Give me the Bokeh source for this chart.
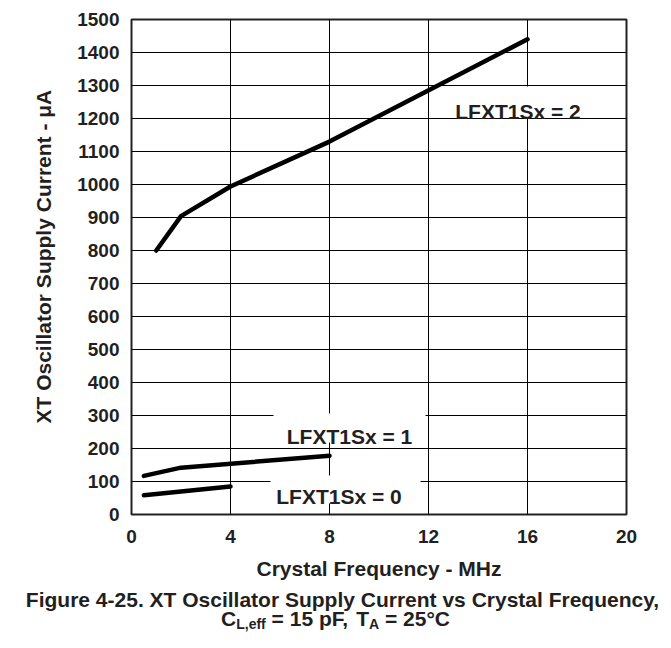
from bokeh.plotting import figure
from bokeh.models import Range1d, Label, FixedTicker, Title
from bokeh.core.properties import value
from bokeh.embed import file_html
from bokeh.resources import INLINE

# ---- data ----
freq_2 = [1, 2, 4, 8, 16]
curr_2 = [800, 904, 994, 1130, 1440]
freq_1 = [0.5, 2, 8]
curr_1 = [117, 142, 178]
freq_0 = [0.5, 4]
curr_0 = [58, 85]
x_ticks = [0, 4, 8, 12, 16, 20]
y_ticks = list(range(0, 1501, 100))
series_names = ["LFXT1Sx = 2", "LFXT1Sx = 1", "LFXT1Sx = 0"]

FONT = "Liberation Sans"
TXT = "#231f20"
PAGE_W, PAGE_H = 671, 648

FL, FT, FW, FH = 131, 19, 495, 495   # frame in page px
BOTTOM = 70
XMAX, YMAX = 20, 1500

def X(px):
    return (px - FL) / FW * XMAX

def Y(py):
    return (FT + FH - py) / FH * YMAX

p = figure(frame_width=FW, frame_height=FH,
           min_border_left=FL, min_border_right=PAGE_W - FL - FW,
           min_border_top=FT, min_border_bottom=BOTTOM,
           x_range=Range1d(0, XMAX), y_range=Range1d(0, YMAX),
           output_backend="svg", toolbar_location=None)
p.background_fill_color = "white"
p.border_fill_color = "white"
p.outline_line_color = "#222222"
p.outline_line_width = 2

for ax in (p.xaxis, p.yaxis):
    ax.axis_line_color = None
    ax.major_tick_line_color = None
    ax.minor_tick_line_color = None
    ax.major_tick_out = 0
    ax.major_tick_in = 0
    ax.major_label_text_font = FONT
    ax.major_label_text_font_style = "bold"
    ax.major_label_text_font_size = "19px"
    ax.major_label_text_color = TXT
    ax.axis_label_text_font = FONT
    ax.axis_label_text_font_style = "bold"
    ax.axis_label_text_font_size = "21px"
    ax.axis_label_text_color = TXT

p.xaxis.ticker = FixedTicker(ticks=x_ticks)
p.yaxis.ticker = FixedTicker(ticks=y_ticks)
p.xaxis.major_label_standoff = 15
p.yaxis.major_label_standoff = 12
p.xaxis.axis_label = "Crystal Frequency - MHz"
p.xaxis.axis_label_standoff = 11

# y-axis title as a side title so it can sit where the reference has it
p.add_layout(Title(text="XT Oscillator Supply Current - μA", align="left", offset=91,
                   vertical_align="bottom", standoff=40, text_font=FONT,
                   text_font_style="bold", text_font_size="21px",
                   text_color=TXT), "left")

p.grid.grid_line_color = "black"
p.grid.grid_line_width = 1
p.grid.grid_line_alpha = 1
p.xgrid.ticker = FixedTicker(ticks=x_ticks)
p.ygrid.ticker = FixedTicker(ticks=y_ticks)

# white boxes behind the series labels
p.quad(left=[X(445), X(273), X(270)], right=[X(590), X(425), X(420)],
       top=[Y(86), Y(413), Y(475)], bottom=[Y(117), Y(442), Y(503)],
       fill_color="white", line_color=None)

for xs, ys in ((freq_2, curr_2), (freq_1, curr_1), (freq_0, curr_0)):
    p.line(xs, ys, line_color="black", line_width=4.5, line_cap="round", line_join="round")

def lab(text, px, py):
    p.add_layout(Label(x=X(px), y=Y(py), text=text, text_font=FONT,
                       text_font_style="bold", text_font_size="21px",
                       text_color=TXT, text_align="center",
                       text_baseline="alphabetic"))

lab(series_names[0], 517.5, 110.5)
lab(series_names[1], 349, 435.5)
lab(series_names[2], 338.5, 495.5)

# ---- caption strip below the chart (separate root, no frame alignment) ----
CAP_TOP = FT + FH + BOTTOM
CAP_H = PAGE_H - CAP_TOP - 2
cap = figure(width=PAGE_W, height=CAP_H, x_range=Range1d(0, PAGE_W),
             y_range=Range1d(CAP_H, 0), min_border=0,
             output_backend="svg", toolbar_location=None)
cap.axis.visible = False
cap.grid.visible = False
cap.outline_line_color = None
cap.background_fill_color = "white"
cap.border_fill_color = "white"

def ctext(text, px, py, size="21px", align="left"):
    cap.text(x=[px], y=[py - CAP_TOP], text=[text], text_font=value(FONT),
             text_font_style="bold", text_font_size=size, text_color=TXT,
             text_align=align, text_baseline="alphabetic")

ctext("Figure 4-25. XT Oscillator Supply Current vs Crystal Frequency,", 342, 599, align="center")
ctext("C", 220.5, 618)
ctext("L,eff", 235.7, 623, size="14px")
ctext("= 15 pF,", 271.1, 618)
ctext("T", 355.8, 618)
ctext("A", 368.6, 623, size="14px")
ctext("= 25°C", 384.5, 618)

open("out.html", "w").write(file_html([p, cap], INLINE))
